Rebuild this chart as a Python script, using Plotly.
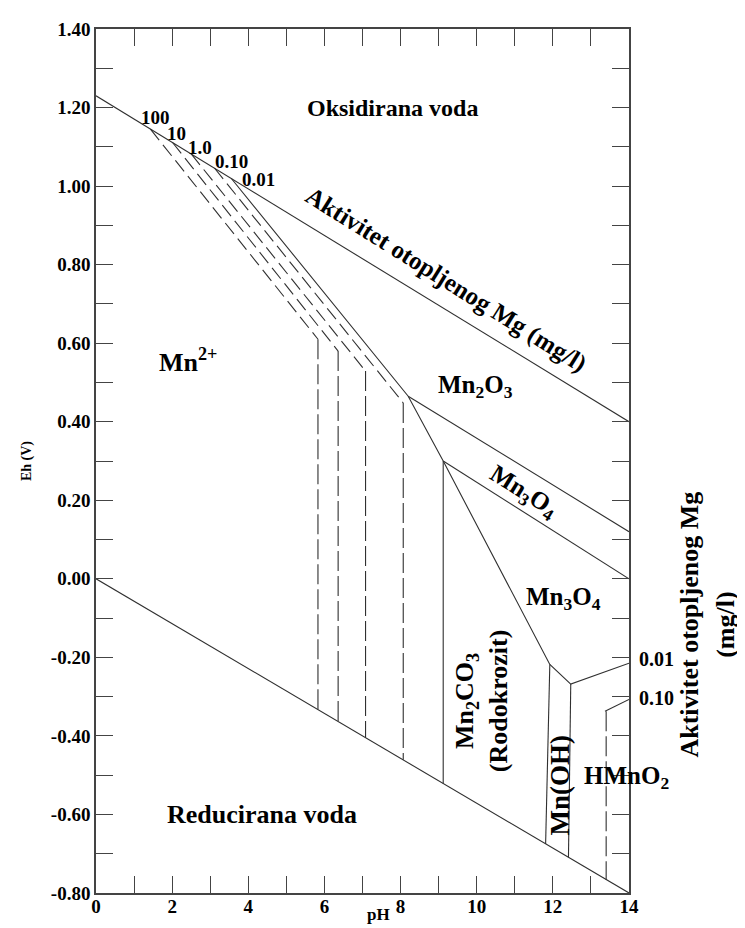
import plotly.graph_objects as go

# ---------------- data ----------------
x_tick_vals = list(range(0, 15))
x_tick_text = ["0", "", "2", "", "4", "", "6", "", "8", "", "10", "", "12", "", "14"]
y_tick_vals = [round(-0.8 + 0.1 * i, 1) for i in range(23)]
y_tick_text = ["-0.80", "", "-0.60", "", "-0.40", "", "-0.20", "", "0.00", "", "0.20", "",
               "0.40", "", "0.60", "", "0.80", "", "1.00", "", "1.20", "", "1.40"]

# water stability limits
upper_water_ph = [0.0, 14.0]
upper_water_eh = [1.23, 0.40]
lower_water_ph = [0.0, 14.0]
lower_water_eh = [0.0, -0.80]

# Mn2+ boundaries for different activities (dashed)
activity_labels = ["100", "10", "1.0", "0.10", "0.01"]
act_start_ph = [1.43, 2.01, 2.50, 3.11, 3.55]
act_start_eh = [1.145, 1.111, 1.082, 1.046, 1.020]
act_bend_ph = [5.83, 6.36, 7.08, 8.07]
act_bend_eh = [0.610, 0.580, 0.529, 0.448]
act_bottom_eh = [-0.333, -0.363, -0.405, -0.461]
act_label_ph = [1.57, 2.12, 2.72, 3.57, 4.28]
act_label_eh = [1.175, 1.134, 1.098, 1.062, 1.016]

# solid boundary (activity 0.01)
solid_ph = [3.55, 8.20, 9.12, 11.92, 12.47, 14.0]
solid_eh = [1.020, 0.465, 0.300, -0.218, -0.268, -0.215]
rodo_ph = [9.12, 9.12]
rodo_eh = [0.300, -0.521]
mnoh_left_ph = [11.92, 11.81]
mnoh_left_eh = [-0.218, -0.675]
mnoh_right_ph = [12.47, 12.41]
mnoh_right_eh = [-0.268, -0.709]

# oxide boundaries
mn2o3_ph = [8.20, 14.0]
mn2o3_eh = [0.465, 0.12]
mn3o4_ph = [9.12, 14.0]
mn3o4_eh = [0.300, 0.0]

# HMnO2 boundary for activity 0.10
hmno2_ph = [13.37, 14.0]
hmno2_eh = [-0.337, -0.307]
hmno2_dash_ph = [13.40, 13.40]
hmno2_dash_eh = [-0.337, -0.766]

LINE = "#303030"
FONT = "Liberation Serif"

fig = go.Figure()

def add_line(xs, ys, dash="solid", width=1.1):
    fig.add_trace(go.Scatter(x=xs, y=ys, mode="lines",
                             line=dict(color=LINE, width=width, dash=dash),
                             hoverinfo="skip", showlegend=False))

add_line(upper_water_ph, upper_water_eh)
add_line(lower_water_ph, lower_water_eh)

for i in range(4):
    add_line([act_start_ph[i], act_bend_ph[i]], [act_start_eh[i], act_bend_eh[i]], dash="14px,6px")
    add_line([act_bend_ph[i], act_bend_ph[i]], [act_bend_eh[i], act_bottom_eh[i]], dash="20px,5px")

add_line(solid_ph, solid_eh)
add_line(rodo_ph, rodo_eh)
add_line(mnoh_left_ph, mnoh_left_eh)
add_line(mnoh_right_ph, mnoh_right_eh)
add_line(mn2o3_ph, mn2o3_eh)
add_line(mn3o4_ph, mn3o4_eh)
add_line(hmno2_ph, hmno2_eh)
add_line(hmno2_dash_ph, hmno2_dash_eh, dash="20px,5px")

ann = []
def label(x, y, text, size=26, angle=0, xref="x", yref="y", **kw):
    ann.append(dict(x=x, y=y, xref=xref, yref=yref, text=text, showarrow=False,
                    textangle=angle, font=dict(family=FONT, size=size, color="black", weight="bold"), **kw))

for t, xv, yv in zip(activity_labels, act_label_ph, act_label_eh):
    label(xv, yv, t, size=19)

label(7.8, 1.20, "Oksidirana voda", size=24)
label(9.2, 0.76, "Aktivitet otopljenog Mg (mg/l)", size=25, angle=32)
label(2.42, 0.555, "Mn<sup>2+</sup>", size=26)
label(9.97, 0.49, "Mn<sub>2</sub>O<sub>3</sub>", size=25)
label(11.24, 0.22, "Mn<sub>3</sub>O<sub>4</sub>", size=25, angle=32)
label(12.28, -0.05, "Mn<sub>3</sub>O<sub>4</sub>", size=25)
label(10.13, -0.31, "Mn<sub>2</sub>CO<sub>3</sub><br>(Rodokrozit)", size=26, angle=-90)
label(12.2, -0.525, "Mn(OH)", size=27, angle=-90)
label(13.93, -0.507, "HMnO<sub>2</sub>", size=25)
label(4.35, -0.60, "Reducirana voda", size=26)
label(14, -0.204, "0.01", size=20, xanchor="left", xshift=8)
label(14, -0.303, "0.10", size=20, xanchor="left", xshift=8)
label(1.145, -0.117, "Aktivitet otopljenog Mg", size=26, angle=-90, xref="paper")
label(1.213, -0.117, "(mg/l)", size=26, angle=-90, xref="paper")
label(-0.148, 0.5, "Eh (V)", size=14, angle=-90, xref="paper", yref="paper")
label(0.53, -0.038, "pH", size=17, xref="paper", yref="paper")

fig.update_layout(
    width=745, height=928,
    margin=dict(l=88, r=124, t=21, b=43),
    paper_bgcolor="white", plot_bgcolor="white",
    annotations=ann,
    showlegend=False,
)
fig.update_xaxes(range=[0, 14], tickmode="array", tickvals=x_tick_vals, ticktext=x_tick_text,
                 ticks="inside", ticklen=17, tickcolor="#444", tickwidth=1,
                 showline=True, linecolor="#444", linewidth=1.5, mirror="ticks",
                 showgrid=False, zeroline=False, ticklabelstandoff=-5,
                 tickfont=dict(family=FONT, size=19, color="black", weight="bold"))
fig.update_yaxes(range=[-0.8, 1.4], tickmode="array", tickvals=y_tick_vals, ticktext=y_tick_text,
                 ticks="inside", ticklen=17, tickcolor="#444", tickwidth=1,
                 showline=True, linecolor="#444", linewidth=1.5, mirror="ticks",
                 showgrid=False, zeroline=False,
                 tickfont=dict(family=FONT, size=19, color="black", weight="bold"))

fig.write_html("out.html")
